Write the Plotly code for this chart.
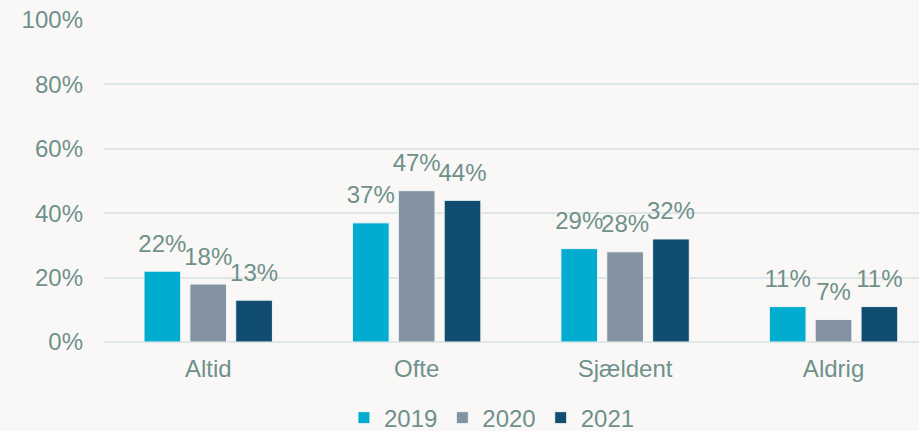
import plotly.graph_objects as go

categories = ["Altid", "Ofte", "Sjældent", "Aldrig"]
years = ["2019", "2020", "2021"]
values_2019 = [22, 37, 29, 11]
values_2020 = [18, 47, 28, 7]
values_2021 = [13, 44, 32, 11]
y_ticks = [0, 20, 40, 60, 80, 100]

colors = ["#00acd0", "#8393a1", "#114c71"]
text_color = "#6f918a"
grid_color = "#dfe6e7"
bg = "#f9f8f7"

fig = go.Figure()
for name, vals, col in zip(years, [values_2019, values_2020, values_2021], colors):
    fig.add_trace(
        go.Bar(
            x=categories,
            y=vals,
            name=name,
            offsetgroup=name,
            marker=dict(color=col, line=dict(color="#f2f6f7", width=1)),
        )
    )
    # value labels sit a bit higher than plotly's bar text, so use a grouped text trace
    fig.add_trace(
        go.Scatter(
            x=categories,
            y=vals,
            offsetgroup=name,
            mode="markers+text",
            marker=dict(size=20, color="rgba(0,0,0,0)"),
            text=[f"{v}%" for v in vals],
            textposition="top center",
            textfont=dict(size=24, color=text_color),
            cliponaxis=False,
            showlegend=False,
            hoverinfo="skip",
        )
    )

fig.update_layout(
    width=919,
    height=431,
    barmode="group",
    scattermode="group",
    bargap=0.34,
    scattergap=0.34,
    bargroupgap=0.2,
    margin=dict(l=104, r=0, t=20, b=89, autoexpand=False),
    paper_bgcolor=bg,
    plot_bgcolor=bg,
    font=dict(family="Liberation Sans, Arial, sans-serif", size=24, color=text_color),
    legend=dict(
        orientation="h",
        xanchor="center",
        x=0.476,
        yref="container",
        yanchor="middle",
        y=0.03,
        font=dict(size=24, color=text_color),
        itemwidth=30,
        traceorder="normal",
    ),
    showlegend=True,
)
fig.update_xaxes(
    range=[-0.5, 3.41],
    showgrid=False,
    showline=False,
    ticks="",
    ticklabelstandoff=10,
    tickfont=dict(size=24, color=text_color),
)
fig.update_yaxes(
    range=[0, 100],
    tickvals=y_ticks,
    ticktext=[f"{t}%" for t in y_ticks],
    showgrid=True,
    gridcolor=grid_color,
    gridwidth=2,
    zeroline=True,
    zerolinecolor=grid_color,
    zerolinewidth=2,
    ticks="",
    ticklabelstandoff=20,
    tickfont=dict(size=24, color=text_color),
)

fig.write_html(
    "out.html",
    config={"displayModeBar": False},
    post_script="document.body.style.margin='0';",
)
